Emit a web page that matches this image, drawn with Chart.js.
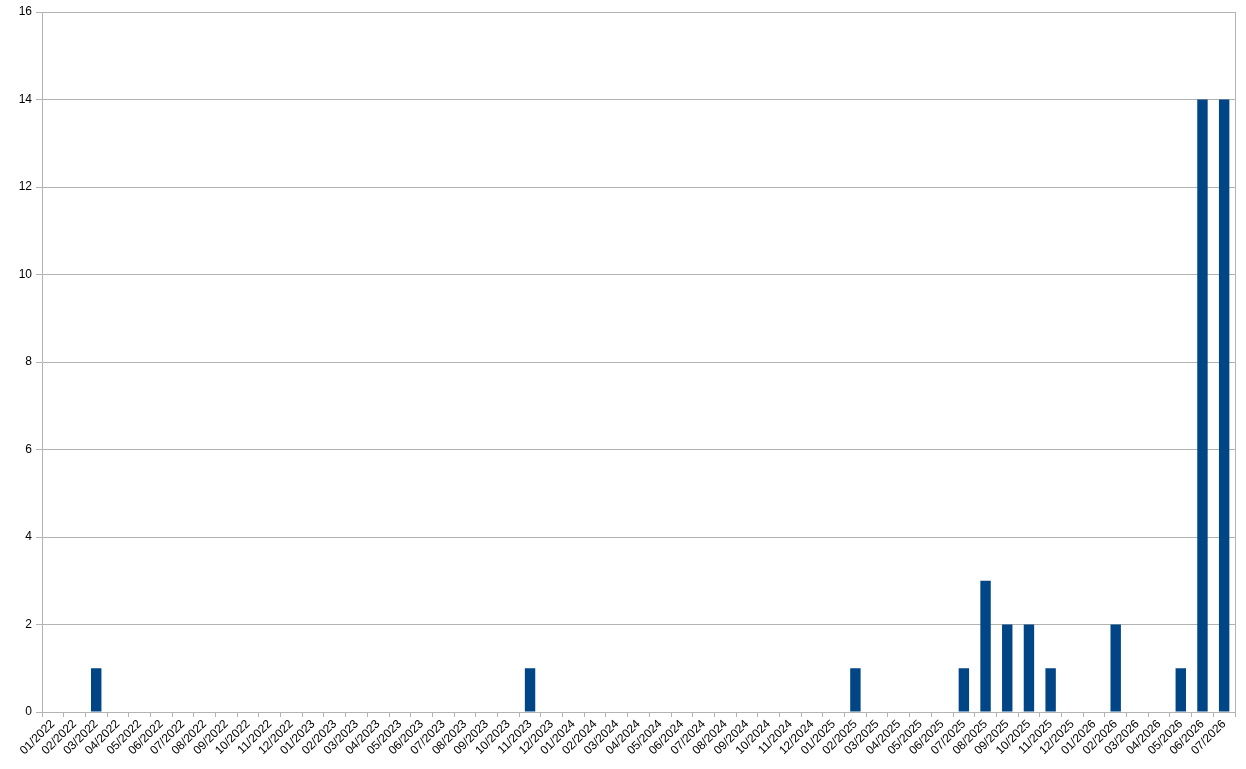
<!DOCTYPE html>
<html><head><meta charset="utf-8">
<script src="https://cdn.jsdelivr.net/npm/chart.js@4"></script>
<style>html,body{margin:0;padding:0;background:#fff}#w{width:1246px;height:769px}</style>
</head><body><div id="w"><canvas id="c"></canvas></div>
<script>
const categories = ["01/2022","02/2022","03/2022","04/2022","05/2022","06/2022","07/2022","08/2022","09/2022","10/2022","11/2022","12/2022",
"01/2023","02/2023","03/2023","04/2023","05/2023","06/2023","07/2023","08/2023","09/2023","10/2023","11/2023","12/2023",
"01/2024","02/2024","03/2024","04/2024","05/2024","06/2024","07/2024","08/2024","09/2024","10/2024","11/2024","12/2024",
"01/2025","02/2025","03/2025","04/2025","05/2025","06/2025","07/2025","08/2025","09/2025","10/2025","11/2025","12/2025",
"01/2026","02/2026","03/2026","04/2026","05/2026","06/2026","07/2026"];
const counts = [0,0,1,0,0,0,0,0,0,0,0,0,
0,0,0,0,0,0,0,0,0,0,1,0,
0,0,0,0,0,0,0,0,0,0,0,0,
0,1,0,0,0,0,1,3,2,2,1,0,
0,2,0,0,1,14,14];
const yTicks = [0,2,4,6,8,10,12,14,16];

const borderPlugin = {id:'bp', afterDraw(chart){const a=chart.chartArea,ctx=chart.ctx;ctx.save();ctx.strokeStyle='#b3b3b3';ctx.lineWidth=1;ctx.beginPath();ctx.moveTo(Math.round(a.right)+0.5,a.top);ctx.lineTo(Math.round(a.right)+0.5,a.bottom);ctx.stroke();ctx.restore();}};

new Chart(document.getElementById('c'), {
  type:'bar',
  data:{labels:categories, datasets:[{data:counts, backgroundColor:'#004586', categoryPercentage:1, barPercentage:0.48}]},
  options:{
    responsive:true, maintainAspectRatio:false, animation:false,
    layout:{padding:{top:12,right:11,left:0,bottom:0}},
    plugins:{legend:{display:false}, tooltip:{enabled:false}},
    scales:{
      x:{
        grid:{drawOnChartArea:false, drawTicks:true, tickLength:5, color:'#b3b3b3', offset:true},
        border:{color:'#b3b3b3'},
        ticks:{minRotation:45, maxRotation:45, autoSkip:false, color:'#000', font:{family:'Liberation Sans', size:12}, padding:0},
        afterFit(s){s.height=57;}
      },
      y:{
        min:0, max:16,
        afterBuildTicks(s){s.ticks=yTicks.map(v=>({value:v}));},
        grid:{color:'#b3b3b3', tickLength:6, drawTicks:true},
        border:{color:'#b3b3b3'},
        ticks:{color:'#000', font:{family:'Liberation Sans', size:12}, padding:4},
        afterFit(s){s.width=42;}
      }
    }
  },
  plugins:[borderPlugin]
});
</script></body></html>
